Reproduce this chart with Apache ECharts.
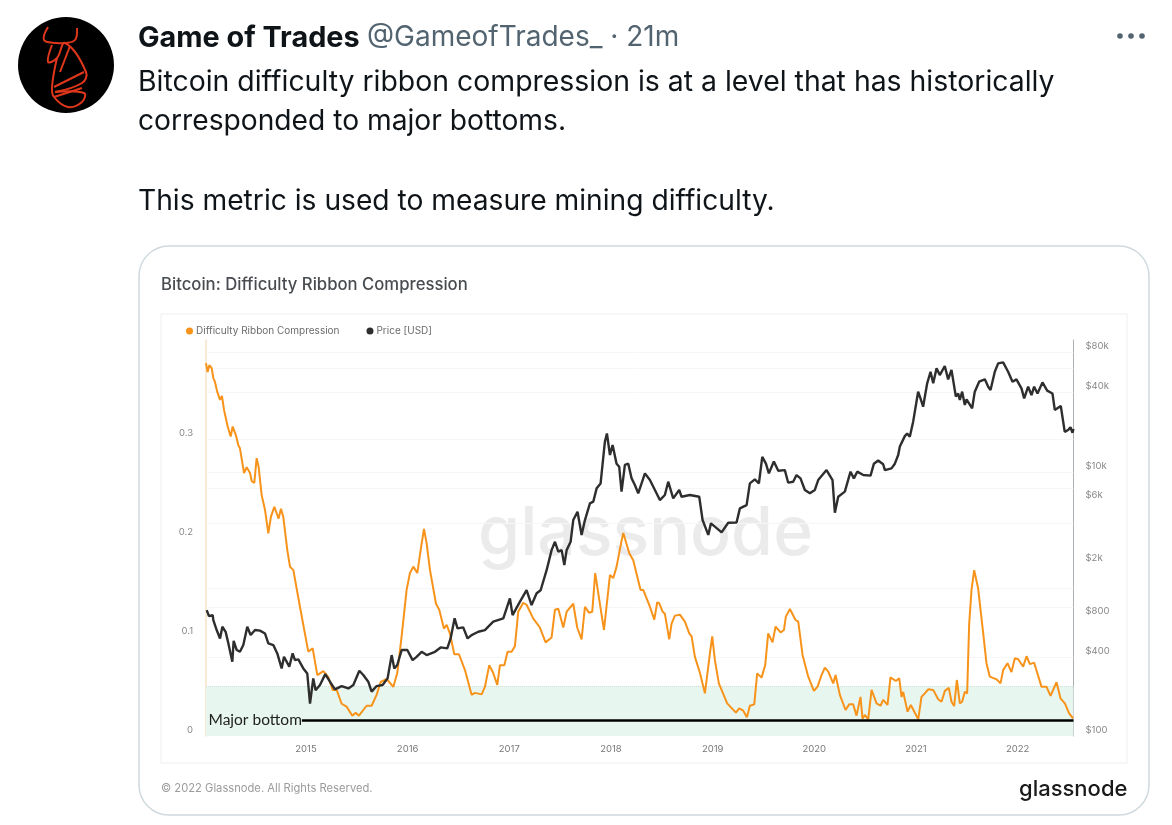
<!DOCTYPE html>
<html><head><meta charset="utf-8">
<style>html,body{margin:0;padding:0;background:#fff}#c{width:1172px;height:825px}</style>
<script src="https://cdn.jsdelivr.net/npm/echarts@6/dist/echarts.min.js"></script>
</head><body><div id="c"></div>
<script>
const drcDates=[2014.017,2014.033,2014.05,2014.073,2014.089,2014.105,2014.128,2014.155,2014.174,2014.194,2014.23,2014.26,2014.279,2014.312,2014.335,2014.351,2014.391,2014.417,2014.45,2014.466,2014.492,2014.515,2014.535,2014.564,2014.597,2014.63,2014.656,2014.689,2014.731,2014.754,2014.777,2014.817,2014.843,2014.876,2014.941,2015.023,2015.066,2015.112,2015.171,2015.22,2015.263,2015.302,2015.351,2015.4,2015.456,2015.489,2015.521,2015.597,2015.646,2015.695,2015.735,2015.794,2015.859,2015.898,2015.941,2015.99,2016.023,2016.056,2016.095,2016.138,2016.161,2016.187,2016.22,2016.279,2016.311,2016.357,2016.384,2016.416,2016.459,2016.505,2016.564,2016.629,2016.662,2016.728,2016.76,2016.803,2016.842,2016.882,2016.908,2016.951,2016.983,2017.023,2017.055,2017.088,2017.137,2017.17,2017.236,2017.301,2017.357,2017.416,2017.449,2017.482,2017.531,2017.564,2017.629,2017.668,2017.711,2017.744,2017.783,2017.816,2017.845,2017.885,2017.931,2017.99,2018.023,2018.055,2018.105,2018.121,2018.18,2018.219,2018.291,2018.317,2018.383,2018.426,2018.455,2018.475,2018.508,2018.53,2018.573,2018.596,2018.629,2018.678,2018.727,2018.77,2018.793,2018.825,2018.875,2018.924,2018.957,2018.973,2018.996,2019.022,2019.061,2019.143,2019.229,2019.261,2019.301,2019.337,2019.366,2019.409,2019.438,2019.481,2019.517,2019.546,2019.589,2019.619,2019.668,2019.701,2019.72,2019.76,2019.815,2019.842,2019.884,2019.94,2019.996,2020.032,2020.071,2020.104,2020.137,2020.186,2020.209,2020.228,2020.251,2020.268,2020.307,2020.317,2020.343,2020.382,2020.415,2020.431,2020.454,2020.474,2020.497,2020.53,2020.563,2020.612,2020.651,2020.677,2020.72,2020.749,2020.802,2020.835,2020.858,2020.874,2020.917,2020.949,2021.022,2021.054,2021.087,2021.12,2021.169,2021.218,2021.251,2021.284,2021.323,2021.349,2021.375,2021.402,2021.431,2021.454,2021.48,2021.503,2021.523,2021.546,2021.572,2021.611,2021.661,2021.693,2021.726,2021.792,2021.831,2021.857,2021.9,2021.939,2021.972,2022.005,2022.054,2022.087,2022.12,2022.162,2022.234,2022.283,2022.323,2022.382,2022.421,2022.464,2022.506,2022.545];
const drcValues=[.371,.362,.369,.366,.356,.352,.342,.334,.338,.324,.307,.297,.307,.298,.288,.285,.26,.266,.26,.252,.25,.275,.266,.238,.223,.199,.216,.226,.214,.224,.216,.182,.1655,.162,.125,.0796,.083,.056,.06,.054,.041,.041,.027,.024,.015,.018,.015,.025,.025,.036,.049,.052,.044,.058,.095,.142,.159,.1655,.159,.189,.2035,.189,.162,.128,.122,.103,.1066,.098,.077,.077,.061,.036,.038,.0365,.044,.066,.058,.046,.066,.066,.0796,.0796,.085,.12,.129,.127,.113,.104,.089,.094,.122,.123,.104,.12,.128,.104,.092,.125,.119,.12,.159,.132,.1015,.157,.154,.1655,.192,.1995,.179,.172,.142,.142,.125,.112,.1295,.1285,.12,.118,.092,.108,.116,.117,.11,.098,.095,.0746,.058,.0375,.0645,.078,.095,.071,.0476,.0274,.018,.0224,.02,.0133,.025,.0264,.0577,.0534,.066,.098,.089,.105,.099,.1015,.115,.1227,.1116,.11,.0763,.0544,.04,.0443,.056,.0635,.0594,.0476,.056,.0554,.036,.0375,.0207,.019,.0264,.0264,.015,.014,.034,.012,.0157,.0113,.041,.0274,.025,.031,.0258,.0537,.05,.0527,.034,.039,.019,.0258,.0113,.034,.0375,.0416,.041,.0315,.029,.04,.043,.029,.0247,.051,.0274,.029,.039,.0375,.108,.142,.162,.1436,.098,.068,.0544,.0517,.0476,.061,.068,.059,.073,.072,.0645,.075,.067,.0685,.0443,.0443,.035,.0487,.0325,.0274,.0173,.0123];
const priceDates=[2014.024,2014.046,2014.083,2014.089,2014.122,2014.155,2014.178,2014.21,2014.237,2014.276,2014.289,2014.319,2014.351,2014.384,2014.423,2014.456,2014.499,2014.548,2014.597,2014.63,2014.679,2014.718,2014.761,2014.784,2014.836,2014.869,2014.892,2014.925,2014.974,2015.013,2015.04,2015.072,2015.095,2015.138,2015.19,2015.236,2015.285,2015.351,2015.417,2015.466,2015.525,2015.564,2015.613,2015.646,2015.695,
2015.754,2015.803,2015.843,2015.869,2015.898,2015.941,2015.997,2016.049,2016.088,2016.138,2016.187,2016.269,2016.325,2016.39,2016.423,2016.462,2016.491,2016.547,2016.59,2016.629,2016.695,2016.76,2016.842,2016.941,2017.006,2017.032,2017.105,2017.17,2017.219,2017.269,2017.308,2017.367,2017.416,2017.449,2017.482,2017.515,2017.541,2017.564,2017.603,2017.629,2017.671,2017.711,2017.744,2017.793,2017.826,2017.859,2017.898,2017.94,2017.96,2017.99,2018.016,2018.055,2018.081,2018.104,2018.137,2018.17,2018.203,2018.235,2018.268,2018.334,2018.383,2018.432,2018.481,2018.53,2018.563,2018.612,2018.671,2018.694,2018.776,2018.868,2018.901,2018.957,2018.983,2019.022,2019.088,2019.153,2019.235,2019.268,2019.334,2019.366,2019.415,2019.455,2019.488,2019.524,2019.553,2019.602,2019.645,2019.71,2019.743,2019.792,2019.825,2019.864,2019.907,2019.956,2020.005,2020.038,2020.12,2020.179,2020.202,2020.235,2020.3,2020.356,2020.389,2020.422,2020.481,2020.553,2020.586,2020.628,2020.677,2020.694,2020.759,2020.792,2020.825,
2020.841,2020.89,2020.913,2020.939,2020.972,2021.021,2021.044,2021.07,2021.11,2021.143,2021.169,2021.202,2021.234,2021.283,2021.316,2021.349,2021.392,2021.415,2021.431,2021.454,2021.48,2021.497,2021.552,2021.578,2021.621,2021.677,2021.71,2021.733,2021.775,2021.808,2021.857,2021.906,2021.949,2021.988,2022.037,2022.064,2022.103,2022.136,2022.162,2022.195,2022.244,2022.29,2022.342,2022.365,2022.424,2022.463,2022.496,2022.519,2022.539,2022.549];
const priceValues=[814,733,746,684,575,497,609,558,456,331,477,406,394,443,609,527,575,569,542,456,443,383,295,361,304,383,341,345,295,270,160,248,202,221,267,234,205,217,208,221,283,263,234,197,217,
221,248,372,295,313,406,406,341,361,394,372,394,425,418,497,705,592,602,497,527,558,575,665,705,998,746,942,1150,889,1090,1150,1630,2310,2670,2250,2310,1780,2310,2670,3900,4510,3010,3900,5210,5370,6770,7380,15200,17600,12100,14400,10400,9860,6390,10200,10400,8050,7170,6210,8790,7820,6580,5520,6030,7600,5690,6580,5850,6030,5850,3900,3010,3680,3480,3150,3720,3740,4780,5060,7380,7910,7380,11700,10400,8790,10800,9200,9300,7470,7600,8530,8050,6580,6210,6580,7820,9300,7820,4430,5850,6390,9050,8050,9050,8530,8440,10400,11000,10300,9300,9590,10400,12100,
14000,16800,17600,16600,21600,36400,32400,28000,42100,51500,42100,54600,48600,56900,45100,53100,33400,35300,31500,36400,28900,31800,27200,36400,43300,45100,39700,37500,51500,59600,60600,51500,43300,45100,38600,32400,39700,34300,39700,35300,42800,37100,35300,26500,28400,18100,18700,19600,17800,19000];
const yearTicks=[2015,2016,2017,2018,2019,2020,2021,2022];
const drcTicks=[0,0.1,0.2,0.3];
const priceTicks=[100,400,800,2000,6000,10000,40000,80000];
const priceGrid=[360,860,1200,3700,6800,9000,16000,36000,55000,72600];
const bottomLevel=0.0101, bottomStart=2014.96, bandTop=0.045, bandTopPrice=217;
const xMin=2014.017,xMax=2022.549,drcMin=-0.00556,drcMax=0.3944,priceMin=91,priceMax=89470;

const FF='Inter, "Noto Sans", sans-serif';
const tx=(text,x,y,size,fill,weight)=>({type:'text',silent:true,z:1,style:{text,x,y,fill,font:`${weight||400} ${size}px ${FF}`,verticalAlign:'middle',align:'left'}});
const red=(pts)=>({type:'polyline',z:2,shape:{points:pts,smooth:0.4},style:{stroke:'#e0371c',lineWidth:2,fill:null}});
const chart=echarts.init(document.getElementById('c'),null,{renderer:'canvas'});
chart.setOption({
 animation:false,
 title:{text:'Bitcoin: Difficulty Ribbon Compression',left:156,top:271,textStyle:{fontFamily:FF,fontSize:16.7,fontWeight:500,color:'#484c50'}},
 legend:{left:181,top:321,icon:'circle',itemWidth:9,itemHeight:7,itemGap:27,data:['Difficulty Ribbon Compression','Price [USD]'],textStyle:{fontFamily:FF,fontSize:10,color:'#6b6b6b',padding:[0,0,0,-3]}},
 grid:{left:206,right:98.5,top:340,height:396,containLabel:false},
 xAxis:{type:'value',min:xMin,max:xMax,splitLine:{show:false},axisLine:{show:false},axisTick:{show:false},
  axisLabel:{customValues:yearTicks,formatter:v=>String(v),fontFamily:FF,fontSize:9.5,color:'#777',margin:8}},
 yAxis:[
  {type:'value',min:drcMin,max:drcMax,position:'left',splitLine:{show:false},axisTick:{show:false},
   axisLine:{show:true,lineStyle:{color:'#f8e2c4',width:1.5}},
   axisLabel:{customValues:drcTicks,formatter:v=>String(v),fontFamily:FF,fontSize:9.5,color:'#888',margin:13}},
  {type:'log',logBase:10,min:priceMin,max:priceMax,position:'right',splitLine:{show:false},axisTick:{show:false},
   axisLine:{show:true,lineStyle:{color:'#aab0b3',width:1}},
   axisLabel:{customValues:priceTicks,formatter:v=>v>=1000?'$'+Math.round(v/1000)+'k':'$'+Math.round(v),fontFamily:FF,fontSize:9.5,color:'#888',margin:12}}
 ],
 series:[
  {name:'Difficulty Ribbon Compression',type:'line',yAxisIndex:0,z:3,showSymbol:false,smooth:false,
   data:drcDates.map((d,i)=>[d,drcValues[i]]),lineStyle:{color:'#f7931a',width:2},itemStyle:{color:'#f7931a'},
   markArea:{silent:true,z:1,itemStyle:{color:'#e7f6ef'},data:[[{xAxis:xMin,yAxis:drcMin},{xAxis:xMax,yAxis:bandTop}]]},
   markLine:{silent:true,z:6,symbol:'none',animation:false,data:[
    [{xAxis:bottomStart,yAxis:bottomLevel,lineStyle:{color:'#000',width:2.5,type:'solid'},label:{show:true,position:'start',formatter:'Major bottom',fontFamily:'Lato',fontSize:15.5,color:'#222',distance:0}},{xAxis:xMax,yAxis:bottomLevel}]
   ]}},
  {name:'Price [USD]',type:'line',yAxisIndex:1,z:4,showSymbol:false,smooth:false,
   data:priceDates.map((d,i)=>[d,priceValues[i]]),lineStyle:{color:'#2e2e2e',width:2.4},itemStyle:{color:'#2e2e2e'},
   markLine:{silent:true,z:2,symbol:'none',label:{show:false},lineStyle:{color:'#f6f6f6',width:1,type:'solid'},
    data:priceGrid.map(v=>({yAxis:v})).concat([{yAxis:bandTopPrice,lineStyle:{color:'#cfe0d6',width:1,type:'dotted'}}])}}
 ],
 graphic:{elements:[
  {type:'rect',z:0,shape:{x:139,y:246,width:1010,height:569,r:30},style:{fill:'#fff',stroke:'#cfd9de',lineWidth:1.5}},
  {type:'rect',z:0,shape:{x:161,y:314,width:966,height:449},style:{fill:'#fff',stroke:'#eeeeee',lineWidth:1}},
  {type:'circle',z:1,shape:{cx:66,cy:65,r:48},style:{fill:'#000'}},
  red([[48,27],[44,40],[57,43],[65,43],[75,40],[77,28]]),
  red([[52,45],[48,62],[57,58],[65,43],[86,72],[82,83],[55,92]]),
  red([[57,58],[52,87],[54,97],[68,107],[82,102],[84,93],[55,92]]),
  red([[54,87],[84,72]]),red([[54,97],[82,88]]),red([[60,72],[70,46]]),
  tx('Game of Trades',138,38,28.8,'#0f1419',700),
  tx('@GameofTrades_ · 21m',367,38,28,'#536471',400),
  tx('Bitcoin difficulty ribbon compression is at a level that has historically',138,82,28.4,'#0f1419',400),
  tx('corresponded to major bottoms.',138,122,28.2,'#0f1419',400),
  tx('This metric is used to measure mining difficulty.',138,202,28.2,'#0f1419',400),
  {type:'circle',z:1,shape:{cx:1120,cy:36,r:2.8},style:{fill:'#536471'}},
  {type:'circle',z:1,shape:{cx:1131,cy:36,r:2.8},style:{fill:'#536471'}},
  {type:'circle',z:1,shape:{cx:1142,cy:36,r:2.8},style:{fill:'#536471'}},
  tx('glassnode',478,535,68,'#ebebeb',500),
  tx('© 2022 Glassnode. All Rights Reserved.',161,789,11.2,'#9b9b9b',400),
  tx('glassnode',1019,789,22,'#1a1a1a',500)
 ]}
});
</script></body></html>
